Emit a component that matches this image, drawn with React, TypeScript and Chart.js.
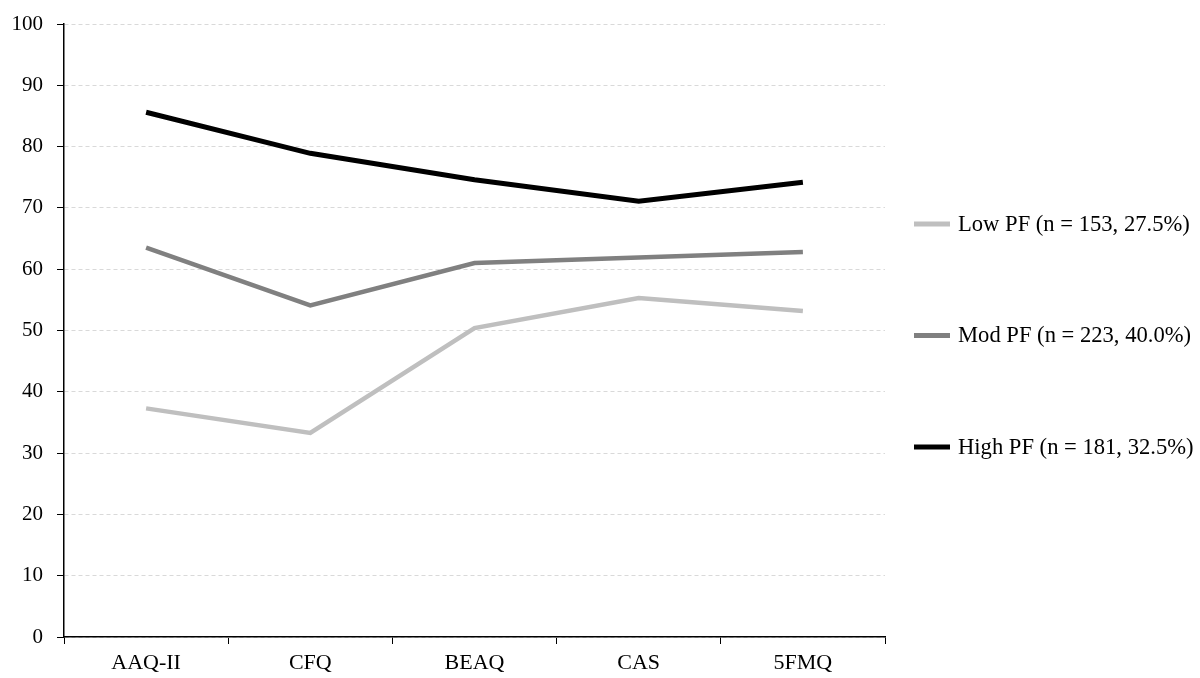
import React, { useEffect, useRef } from "react";
import { Chart, registerables } from "chart.js";

Chart.register(...registerables);

const categories = ["AAQ-II", "CFQ", "BEAQ", "CAS", "5FMQ"];
const lowPF = [37.3, 33.3, 50.4, 55.3, 53.2];
const modPF = [63.5, 54.1, 61.0, 61.9, 62.8];
const highPF = [85.6, 78.9, 74.6, 71.1, 74.2];
const seriesLabels = [
  "Low PF (n = 153, 27.5%)",
  "Mod PF (n = 223, 40.0%)",
  "High PF (n = 181, 32.5%)",
];
const yTicks = [0, 10, 20, 30, 40, 50, 60, 70, 80, 90, 100];

const FONT = "'Liberation Serif', 'Times New Roman', serif";

const legendPlugin = {
  id: "sideLegend",
  afterDraw(chart: any) {
    const ctx = chart.ctx;
    const ds = chart.data.datasets;
    const x0 = chart.chartArea.right + 29;
    ctx.save();
    ds.forEach((d: any, i: number) => {
      const y = 224 + i * 111.5;
      ctx.strokeStyle = d.borderColor;
      ctx.lineWidth = 5;
      ctx.beginPath();
      ctx.moveTo(x0, y);
      ctx.lineTo(x0 + 36, y);
      ctx.stroke();
      ctx.fillStyle = "#000";
      ctx.font = `22.6px ${FONT}`;
      ctx.textBaseline = "middle";
      ctx.textAlign = "left";
      ctx.fillText(d.label, x0 + 44, y + 1);
    });
    ctx.restore();
  },
};

export default function App() {
  const ref = useRef<HTMLCanvasElement | null>(null);
  useEffect(() => {
    if (!ref.current) return;
    const chart = new Chart(ref.current, {
      type: "line",
      data: {
        labels: categories,
        datasets: [
          { label: seriesLabels[0], data: lowPF, borderColor: "#bfbfbf", borderWidth: 4.5 },
          { label: seriesLabels[1], data: modPF, borderColor: "#808080", borderWidth: 4.5 },
          { label: seriesLabels[2], data: highPF, borderColor: "#000000", borderWidth: 5 },
        ],
      },
      options: {
        responsive: false,
        animation: false,
        devicePixelRatio: 1,
        layout: { padding: { left: 0, right: 315, top: 24, bottom: 0 } },
        elements: { point: { radius: 0 }, line: { tension: 0 } },
        plugins: { legend: { display: false }, tooltip: { enabled: false } },
        scales: {
          x: {
            type: "category",
            offset: true,
            grid: {
              offset: true,
              drawOnChartArea: false,
              drawTicks: true,
              tickLength: 7,
              tickColor: "#000",
              tickWidth: 1,
            },
            border: { color: "#000", width: 1.5 },
            ticks: { color: "#000", font: { family: FONT, size: 22 }, padding: 6 },
            afterFit: (s: any) => {
              s.height = 41;
              s.paddingLeft = 0;
              s.paddingRight = 0;
            },
          },
          y: {
            min: 0,
            max: 100,
            afterBuildTicks: (s: any) => {
              s.ticks = yTicks.map((v) => ({ value: v }));
            },
            grid: {
              color: "#d9d9d9",
              tickColor: "#000",
              tickLength: 7,
              tickBorderDash: [],
            } as any,
            border: { color: "#000", width: 1.5, dash: [4, 3] },
            ticks: { color: "#000", font: { family: FONT, size: 21 }, padding: 14 },
            afterFit: (s: any) => {
              s.width = 64;
              s.paddingTop = 0;
              s.paddingBottom = 0;
            },
          },
        },
      },
      plugins: [legendPlugin],
    });
    return () => chart.destroy();
  }, []);
  return (
    <div style={{ position: "absolute", left: 0, top: 0, width: 1200, height: 678, background: "#fff" }}>
      <canvas ref={ref} width={1200} height={678} style={{ display: "block" }} />
    </div>
  );
}
